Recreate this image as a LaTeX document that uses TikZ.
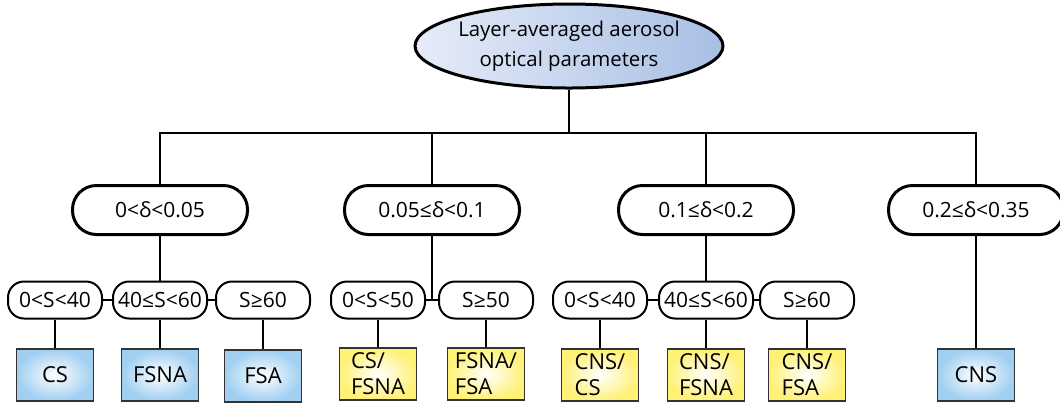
\documentclass[tikz,border=0pt]{standalone}
\usepackage{fontspec}
\setmainfont{Open Sans}
\usepackage{tikz}
\usepackage{xcolor}
\usetikzlibrary{shapes.geometric}

\definecolor{rootleft}{HTML}{E6ECF8}
\definecolor{rootright}{HTML}{A8BFE4}
\definecolor{leafblue}{HTML}{A0CFF1}
\definecolor{leafyellow}{HTML}{FFF176}

\begin{document}
\begin{tikzpicture}[x=0.5pt, y=-0.5pt,
    every node/.style={font=\fontsize{10.5}{12.5}\selectfont, inner sep=1pt},
    rootbox/.style={ellipse, draw, line width=1.5pt, minimum width=154pt, minimum height=42pt,
                 inner xsep=-6pt, inner ysep=-3pt,
                 left color=rootleft, right color=rootright, align=center,
                 font=\fontsize{10.2}{15}\selectfont},
    rangebox/.style={draw, line width=1.5pt, rounded corners=12pt, minimum width=87.5pt,
                  minimum height=24.5pt, fill=white},
    slopebox/.style={draw, line width=1pt, rounded corners=8pt, minimum width=47pt,
                  minimum height=18.5pt, fill=white},
    leafbox/.style={draw=black!80, line width=0.6pt, minimum width=38.5pt, minimum height=26pt,
                 align=left, inner color=white, font=\fontsize{11}{13}\selectfont},
    blueleaf/.style={leafbox, outer color=leafblue},
    yellowleaf/.style={leafbox, outer color=leafyellow},
    link/.style={line width=1pt}]
  \useasboundingbox (0,0) rectangle (1060,404);

  \node[rootbox] (root) at (569,46) {Layer-averaged aerosol\\optical parameters};

  \node[rangebox] (d1) at (160,210) {0<δ<0.05};
  \node[rangebox] (d2) at (432,210) {0.05≤δ<0.1};
  \node[rangebox] (d3) at (706,210) {0.1≤δ<0.2};
  \node[rangebox] (d4) at (976,210) {0.2≤δ<0.35};

  \node[slopebox] (s11) at (55,300)  {0<S<40};
  \node[slopebox] (s12) at (160,300) {40≤S<60};
  \node[slopebox] (s13) at (263,300) {S≥60};
  \node[slopebox] (s21) at (378,300) {0<S<50};
  \node[slopebox] (s22) at (486,300) {S≥50};
  \node[slopebox] (s31) at (600,300) {0<S<40};
  \node[slopebox] (s32) at (706,300) {40≤S<60};
  \node[slopebox] (s33) at (807,300) {S≥60};

  \node[blueleaf] (c11) at (55,375)  {CS};
  \node[blueleaf] (c12) at (160,375) {FSNA};
  \node[blueleaf] (c13) at (263,376) {FSA};
  \node[yellowleaf] (c21) at (378,374) {CS/\\FSNA};
  \node[yellowleaf] (c22) at (486,374) {FSNA/\\FSA};
  \node[yellowleaf] (c31) at (600,375) {CNS/\\CS};
  \node[yellowleaf] (c32) at (706,375) {CNS/\\FSNA};
  \node[yellowleaf] (c33) at (807,375) {CNS/\\FSA};
  \node[blueleaf] (c41) at (976,375) {CNS};

  % tree of ranges
  \coordinate (hub) at (569,133);
  \draw[link] (root.south) -- (hub);
  \draw[link] (d1.north) -- (d1.north |- hub) -- (d4.north |- hub) -- (d4.north);
  \draw[link] (d2.north) -- (d2.north |- hub);
  \draw[link] (d3.north) -- (d3.north |- hub);

  % slope classes
  \draw[link] (d1.south) -- (s12.north);
  \draw[link] (s11.east) -- (s12.west) (s12.east) -- (s13.west);
  \draw[link] (s21.east) -- (s22.west);
  \draw[link] (d2.south) -- (d2.south |- s21.east);
  \draw[link] (d3.south) -- (s32.north);
  \draw[link] (s31.east) -- (s32.west) (s32.east) -- (s33.west);
  \draw[link] (d4.south) -- (c41.north);

  % aerosol types
  \foreach \s/\c in {s11/c11, s12/c12, s13/c13, s21/c21, s22/c22, s31/c31, s32/c32, s33/c33}
    \draw[link] (\s.south) -- (\c.north);
\end{tikzpicture}
\end{document}
